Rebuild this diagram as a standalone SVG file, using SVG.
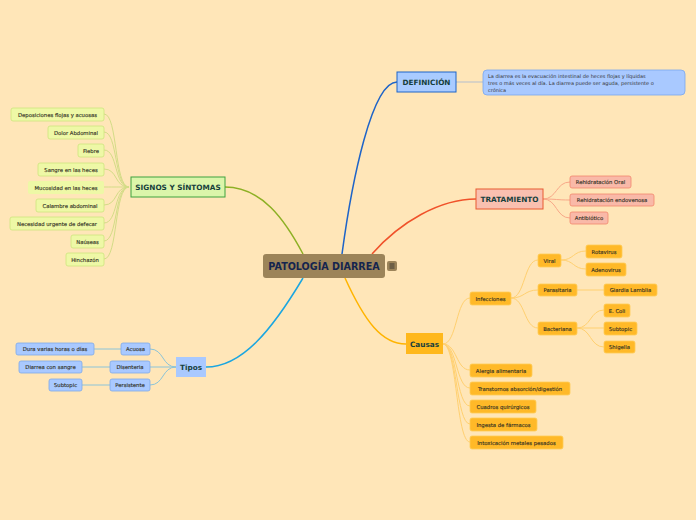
<svg xmlns="http://www.w3.org/2000/svg" width="696" height="520" viewBox="0 0 696 520">
<style>
text{font-family:"DejaVu Sans",Verdana,sans-serif;}
.leaf{font-size:5.3px;fill:#2e2e22;stroke:#2e2e22;stroke-width:0.12;}
.main{font-size:7.3px;font-weight:bold;fill:#173f3c;}
.c{fill:none;}
.sg{fill:#eef8a6;stroke:#cde47e;stroke-width:0.8;}
.bl{fill:#a9c9ff;stroke:#7faae8;stroke-width:0.8;}
.rd{fill:#f9b9a8;stroke:#f2876c;stroke-width:0.8;}
.yl{fill:#ffb928;stroke:#ffcc55;stroke-width:0.8;}
</style>
<rect x="0" y="0" width="696" height="520" fill="#ffe6b8"/>
<g id="connectors" fill="none">
<path d="M342,254 C352,180 372,82 397,82" stroke="#1e64c8" stroke-width="1.5"/>
<path d="M456,82 L483,82" stroke="#bfc5cc" stroke-width="1.2"/>
<path d="M303,254 C285,220 262,187 225,187" stroke="#8db024" stroke-width="1.5"/>
<path d="M372,254 C400,222 440,199 476,199" stroke="#f0522a" stroke-width="1.5"/>
<path d="M303,278 C272,330 242,367 206,367" stroke="#1ba6e0" stroke-width="1.5"/>
<path d="M345,278 C365,322 382,344 406,344" stroke="#ffb400" stroke-width="1.5"/>
<g stroke="#d3dc86" stroke-width="1">
<path d="M129,187 C114,187 118,114 104,114"/>
<path d="M129,187 C114,187 118,132 104,132"/>
<path d="M129,187 C114,187 118,150 104,150"/>
<path d="M129,187 C114,187 118,169 104,169"/>
<path d="M129,187 C114,187 118,187 104,187"/>
<path d="M129,187 C114,187 118,205 104,205"/>
<path d="M129,187 C114,187 118,223 104,223"/>
<path d="M129,187 C114,187 118,241 104,241"/>
<path d="M129,187 C114,187 118,259 104,259"/>
</g>
<g stroke="#8cc4d8" stroke-width="1">
<path d="M150,349 C164,349 162,367 176,367"/>
<path d="M150,367 L176,367"/>
<path d="M150,385 C164,385 162,367 176,367"/>
<path d="M94,349 L121,349"/>
<path d="M82,367 L110,367"/>
<path d="M82,385 L110,385"/>
</g>
<g stroke="#f8a888" stroke-width="1">
<path d="M543,199 C557,199 556,182 570,182"/>
<path d="M543,199 C557,199 556,200 570,200"/>
<path d="M543,199 C557,199 556,218 570,218"/>
</g>
<g stroke="#ffd070" stroke-width="1">
<path d="M443,344 C457,344 456,298 470,298"/>
<path d="M443,344 C457,344 456,370 470,370"/>
<path d="M443,344 C457,344 456,388 470,388"/>
<path d="M443,344 C457,344 456,406 470,406"/>
<path d="M443,344 C457,344 456,424 470,424"/>
<path d="M443,344 C457,344 456,442 470,442"/>
<path d="M511,298 C525,298 524,260 538,260"/>
<path d="M511,298 C525,298 524,290 538,290"/>
<path d="M511,298 C525,298 524,328 538,328"/>
<path d="M561,260 C574,260 573,251 586,251"/>
<path d="M561,260 C574,260 573,269 586,269"/>
<path d="M577,290 L604,290"/>
<path d="M577,328 C591,328 590,310 604,310"/>
<path d="M577,328 L604,328"/>
<path d="M577,328 C591,328 590,347 604,347"/>
</g>
</g>
<g id="center">
<rect x="263" y="254" width="122" height="24" rx="3" fill="#9c8459"/>
<text x="324" y="269.5" text-anchor="middle" font-size="9.6" font-weight="bold" fill="#14244e">PATOLOGÍA DIARREA</text>
<rect x="387" y="261" width="10" height="10" rx="2" fill="#9c8459"/>
<path d="M389.5,264 h5 M389.5,266 h5 M389.5,268 h5" stroke="#2a2a2a" stroke-width="0.8"/>
</g>
<g id="definicion">
<rect x="397" y="72" width="59" height="20" fill="#a9cbff" stroke="#1e64c8" stroke-width="1"/>
<text x="426.5" y="85" text-anchor="middle" class="main">DEFINICIÓN</text>
</g>
<g id="definicion-note">
<rect x="483" y="70" width="202" height="25" rx="4" fill="#a9c9ff" stroke="#7aa7ee" stroke-width="0.8"/>
<text x="488" y="78" font-size="5" fill="#333">La diarrea es la evacuación intestinal de heces flojas y líquidas</text>
<text x="488" y="85" font-size="5" fill="#333">tres o más veces al día. La diarrea puede ser aguda, persistente o</text>
<text x="488" y="92" font-size="5" fill="#333">crónica</text>
</g>
<g id="signos">
<rect x="131" y="177" width="94" height="20" fill="#dbf5aa" stroke="#3fa23f" stroke-width="1"/>
<text x="178" y="190" text-anchor="middle" class="main">SIGNOS Y SÍNTOMAS</text>
</g>
<g id="s1"><rect x="11" y="108" width="93" height="13" rx="2" class="sg"/><text x="57.5" y="116.5" text-anchor="middle" class="leaf">Deposiciones flojas y acuosas</text></g>
<g id="s2"><rect x="48" y="126" width="56" height="13" rx="2" class="sg"/><text x="76" y="134.5" text-anchor="middle" class="leaf">Dolor Abdominal</text></g>
<g id="s3"><rect x="78" y="144" width="26" height="13" rx="2" class="sg"/><text x="91" y="152.5" text-anchor="middle" class="leaf">Fiebre</text></g>
<g id="s4"><rect x="38" y="163" width="66" height="13" rx="2" class="sg"/><text x="71" y="171.5" text-anchor="middle" class="leaf">Sangre en las heces</text></g>
<g id="s5"><rect x="28" y="181" width="76" height="13" rx="2" fill="#eef8a6"/><text x="66" y="189.5" text-anchor="middle" class="leaf">Mucosidad en las heces</text></g>
<g id="s6"><rect x="36" y="199" width="68" height="13" rx="2" class="sg"/><text x="70" y="207.5" text-anchor="middle" class="leaf">Calambre abdominal</text></g>
<g id="s7"><rect x="10" y="217" width="94" height="13" rx="2" class="sg"/><text x="57" y="225.5" text-anchor="middle" class="leaf">Necesidad urgente de defecar</text></g>
<g id="s8"><rect x="71" y="235" width="33" height="13" rx="2" class="sg"/><text x="87.5" y="243.5" text-anchor="middle" class="leaf">Naúseas</text></g>
<g id="s9"><rect x="66" y="253" width="38" height="13" rx="2" class="sg"/><text x="85" y="261.5" text-anchor="middle" class="leaf">Hinchazón</text></g>
<g id="tipos">
<rect x="176" y="357" width="30" height="20" fill="#a9c9ff"/>
<text x="191" y="370" text-anchor="middle" class="main">Tipos</text>
</g>
<g id="t1"><rect x="121" y="343" width="29" height="12" rx="2" class="bl"/><text x="135.5" y="351" text-anchor="middle" class="leaf">Acuosa</text></g>
<g id="t2"><rect x="110" y="361" width="40" height="12" rx="2" class="bl"/><text x="130" y="369" text-anchor="middle" class="leaf">Disenteria</text></g>
<g id="t3"><rect x="110" y="379" width="40" height="12" rx="2" class="bl"/><text x="130" y="387" text-anchor="middle" class="leaf">Persistente</text></g>
<g id="t1a"><rect x="16" y="343" width="78" height="12" rx="2" class="bl"/><text x="55" y="351" text-anchor="middle" class="leaf">Dura varias horas o días</text></g>
<g id="t2a"><rect x="19" y="361" width="63" height="12" rx="2" class="bl"/><text x="50.5" y="369" text-anchor="middle" class="leaf">Diarrea con sangre</text></g>
<g id="t3a"><rect x="49" y="379" width="33" height="12" rx="2" class="bl"/><text x="65.5" y="387" text-anchor="middle" class="leaf">Subtopic</text></g>
<g id="tratamiento">
<rect x="476" y="189" width="67" height="20" fill="#f9c0b0" stroke="#e85a30" stroke-width="1"/>
<text x="509.5" y="202" text-anchor="middle" class="main">TRATAMIENTO</text>
</g>
<g id="r1"><rect x="570" y="176" width="61" height="12" rx="2" class="rd"/><text x="600.5" y="184" text-anchor="middle" class="leaf">Rehidratación Oral</text></g>
<g id="r2"><rect x="570" y="194" width="84" height="12" rx="2" class="rd"/><text x="612" y="202" text-anchor="middle" class="leaf">Rehidratación endovenosa</text></g>
<g id="r3"><rect x="570" y="212" width="38" height="12" rx="2" class="rd"/><text x="589" y="220" text-anchor="middle" class="leaf">Antibiótico</text></g>
<g id="causas">
<rect x="406" y="333" width="37" height="21" fill="#ffb81c"/>
<text x="424.5" y="346.5" text-anchor="middle" class="main">Causas</text>
</g>
<g id="c1"><rect x="470" y="292" width="41" height="13" rx="2" class="yl"/><text x="490.5" y="300.5" text-anchor="middle" class="leaf">Infecciones</text></g>
<g id="c2"><rect x="470" y="364" width="62" height="13" rx="2" class="yl"/><text x="501" y="372.5" text-anchor="middle" class="leaf">Alergia alimentaria</text></g>
<g id="c3"><rect x="470" y="382" width="100" height="13" rx="2" class="yl"/><text x="520" y="390.5" text-anchor="middle" class="leaf">Transtornos absorción/digestión</text></g>
<g id="c4"><rect x="470" y="400" width="66" height="13" rx="2" class="yl"/><text x="503" y="408.5" text-anchor="middle" class="leaf">Cuadros quirúrgicos</text></g>
<g id="c5"><rect x="470" y="418" width="67" height="13" rx="2" class="yl"/><text x="503.5" y="426.5" text-anchor="middle" class="leaf">Ingesta de fármacos</text></g>
<g id="c6"><rect x="470" y="436" width="93" height="13" rx="2" class="yl"/><text x="516.5" y="444.5" text-anchor="middle" class="leaf">Intoxicación metales pesados</text></g>
<g id="i1"><rect x="538" y="254" width="23" height="13" rx="2" class="yl"/><text x="549.5" y="262.5" text-anchor="middle" class="leaf">Viral</text></g>
<g id="i2"><rect x="538" y="284" width="39" height="12" rx="2" class="yl"/><text x="557.5" y="292" text-anchor="middle" class="leaf">Parasitaria</text></g>
<g id="i3"><rect x="538" y="322" width="39" height="13" rx="2" class="yl"/><text x="557.5" y="330.5" text-anchor="middle" class="leaf">Bacteriana</text></g>
<g id="v1"><rect x="586" y="245" width="36" height="13" rx="2" class="yl"/><text x="604" y="253.5" text-anchor="middle" class="leaf">Rotavirus</text></g>
<g id="v2"><rect x="586" y="263" width="40" height="13" rx="2" class="yl"/><text x="606" y="271.5" text-anchor="middle" class="leaf">Adenovirus</text></g>
<g id="p1"><rect x="604" y="284" width="53" height="12" rx="2" class="yl"/><text x="630.5" y="292" text-anchor="middle" class="leaf">Giardia Lamblia</text></g>
<g id="b1"><rect x="604" y="304" width="26" height="13" rx="2" class="yl"/><text x="617" y="312.5" text-anchor="middle" class="leaf">E. Coli</text></g>
<g id="b2"><rect x="604" y="322" width="33" height="13" rx="2" class="yl"/><text x="620.5" y="330.5" text-anchor="middle" class="leaf">Subtopic</text></g>
<g id="b3"><rect x="604" y="341" width="31" height="12" rx="2" class="yl"/><text x="619.5" y="349" text-anchor="middle" class="leaf">Shigella</text></g>
</svg>
